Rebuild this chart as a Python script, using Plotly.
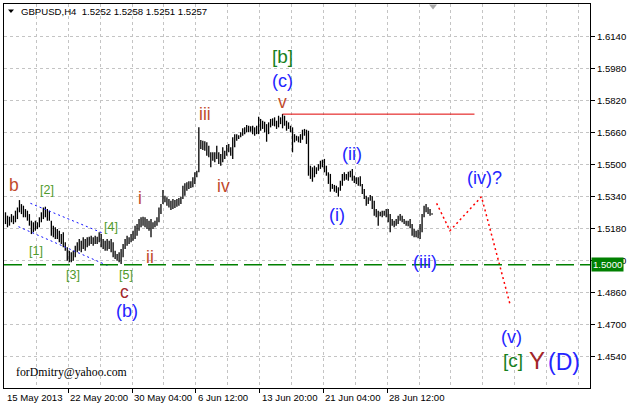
import plotly.graph_objects as go

symbol = "GBPUSD,H4"
last_ohlc = [1.5252, 1.5258, 1.5251, 1.5257]

highs = [
    1.5263, 1.5246, 1.5241, 1.5254, 1.5246, 1.5271, 1.5287, 1.5324, 1.5304, 1.5296,
    1.5279, 1.5271, 1.5254, 1.5221, 1.5213, 1.5221, 1.5213, 1.5238, 1.5263, 1.5287,
    1.5291, 1.5279, 1.5271, 1.5221, 1.5196, 1.5188, 1.5179, 1.5171, 1.5154, 1.5163,
    1.5113, 1.5088, 1.5071, 1.5063, 1.5071, 1.5096, 1.5113, 1.5129, 1.5121, 1.5138,
    1.5129, 1.5138, 1.5141, 1.5146, 1.5138, 1.5146, 1.5141, 1.5163, 1.5154, 1.5129,
    1.5121, 1.5129, 1.5121, 1.5129, 1.5113, 1.5071, 1.5054, 1.5063, 1.5079, 1.5104,
    1.5129, 1.5146, 1.5138, 1.5154, 1.5171, 1.5196, 1.5204, 1.5229, 1.5238, 1.5241,
    1.5238, 1.5229, 1.5221, 1.5229, 1.5213, 1.5221, 1.5238, 1.5287, 1.5304, 1.5374,
    1.5346, 1.5338, 1.5329, 1.5321, 1.5329, 1.5324, 1.5329, 1.5334, 1.5341, 1.5396,
    1.5408, 1.5413, 1.5418, 1.5418, 1.5438, 1.5463, 1.5471, 1.5688, 1.5625, 1.5621,
    1.5618, 1.5613, 1.5596, 1.5563, 1.5563, 1.5563, 1.5596, 1.5563, 1.5555, 1.5588,
    1.5571, 1.5600, 1.5605, 1.5588, 1.5638, 1.5654, 1.5654, 1.5649, 1.5663, 1.5683,
    1.5688, 1.5700, 1.5696, 1.5693, 1.5696, 1.5688, 1.5696, 1.5741, 1.5730, 1.5721,
    1.5716, 1.5704, 1.5713, 1.5730, 1.5733, 1.5738, 1.5721, 1.5746, 1.5738, 1.5755,
    1.5746, 1.5721, 1.5713, 1.5696, 1.5688, 1.5654, 1.5646, 1.5643, 1.5654, 1.5676,
    1.5680, 1.5676, 1.5671, 1.5496, 1.5488, 1.5496, 1.5488, 1.5504, 1.5521, 1.5526,
    1.5530, 1.5496, 1.5463, 1.5455, 1.5405, 1.5400, 1.5396, 1.5388, 1.5421, 1.5455,
    1.5463, 1.5455, 1.5466, 1.5471, 1.5480, 1.5446, 1.5438, 1.5438, 1.5443, 1.5405,
    1.5380, 1.5346, 1.5338, 1.5350, 1.5343, 1.5321, 1.5280, 1.5271, 1.5266, 1.5271,
    1.5271, 1.5280, 1.5280, 1.5254, 1.5230, 1.5221, 1.5230, 1.5246, 1.5254, 1.5246,
    1.5230, 1.5221, 1.5221, 1.5230, 1.5205, 1.5180, 1.5171, 1.5176, 1.5205, 1.5254,
    1.5296, 1.5304, 1.5288, 1.5280, 1.5258,
]

lows = [
    1.5204, 1.5188, 1.5196, 1.5213, 1.5204, 1.5213, 1.5229, 1.5263, 1.5254, 1.5238,
    1.5238, 1.5221, 1.5196, 1.5154, 1.5163, 1.5171, 1.5179, 1.5188, 1.5213, 1.5229,
    1.5238, 1.5221, 1.5221, 1.5146, 1.5138, 1.5129, 1.5129, 1.5113, 1.5104, 1.5088,
    1.5071, 1.5021, 1.5013, 1.5013, 1.5021, 1.5038, 1.5063, 1.5071, 1.5063, 1.5079,
    1.5071, 1.5088, 1.5096, 1.5104, 1.5096, 1.5104, 1.5104, 1.5113, 1.5088, 1.5079,
    1.5071, 1.5071, 1.5079, 1.5063, 1.5038, 1.5029, 1.5021, 1.5013, 1.5004, 1.5038,
    1.5079, 1.5096, 1.5104, 1.5113, 1.5121, 1.5129, 1.5146, 1.5171, 1.5188, 1.5196,
    1.5188, 1.5179, 1.5171, 1.5138, 1.5179, 1.5188, 1.5196, 1.5213, 1.5254, 1.5304,
    1.5313, 1.5296, 1.5287, 1.5274, 1.5279, 1.5284, 1.5291, 1.5296, 1.5304, 1.5329,
    1.5346, 1.5371, 1.5379, 1.5384, 1.5388, 1.5404, 1.5438, 1.5463, 1.5580, 1.5575,
    1.5571, 1.5546, 1.5538, 1.5488, 1.5521, 1.5513, 1.5530, 1.5505, 1.5496, 1.5513,
    1.5530, 1.5546, 1.5563, 1.5546, 1.5530, 1.5588, 1.5621, 1.5630, 1.5638, 1.5646,
    1.5654, 1.5663, 1.5663, 1.5666, 1.5654, 1.5646, 1.5654, 1.5654, 1.5671, 1.5680,
    1.5663, 1.5616, 1.5654, 1.5688, 1.5696, 1.5693, 1.5680, 1.5688, 1.5704, 1.5683,
    1.5696, 1.5671, 1.5680, 1.5663, 1.5563, 1.5613, 1.5621, 1.5613, 1.5610, 1.5626,
    1.5646, 1.5605, 1.5446, 1.5430, 1.5416, 1.5438, 1.5454, 1.5471, 1.5480, 1.5488,
    1.5463, 1.5446, 1.5405, 1.5366, 1.5380, 1.5366, 1.5360, 1.5341, 1.5371, 1.5396,
    1.5421, 1.5426, 1.5421, 1.5438, 1.5421, 1.5410, 1.5405, 1.5396, 1.5393, 1.5355,
    1.5330, 1.5296, 1.5304, 1.5321, 1.5280, 1.5246, 1.5238, 1.5196, 1.5243, 1.5238,
    1.5246, 1.5238, 1.5213, 1.5163, 1.5196, 1.5188, 1.5196, 1.5205, 1.5221, 1.5213,
    1.5205, 1.5196, 1.5193, 1.5183, 1.5146, 1.5138, 1.5138, 1.5133, 1.5130, 1.5163,
    1.5238, 1.5263, 1.5254, 1.5246, 1.5251,
]

bar_idx = list(range(len(highs)))

time_labels = ["15 May 2013", "22 May 20:00", "30 May 04:00", "6 Jun 12:00",
               "13 Jun 20:00", "21 Jun 04:00", "28 Jun 12:00"]
price_ticks = [1.4540, 1.4700, 1.4860, 1.5020, 1.5180, 1.5340,
               1.5500, 1.5660, 1.5820, 1.5980, 1.6140]

support_level = 1.5000
resist_level = 1.5754
resist_span = [139, 235.3]

channel_upper_idx = [12.5, 49.5]
channel_upper_px = [1.5308, 1.5156]
channel_lower_idx = [6.5, 52.5]
channel_lower_px = [1.5191, 1.4991]

forecast_idx = [216.3, 223, 238.8, 253.3]
forecast_price = [1.5308, 1.5171, 1.5341, 1.4796]

ROMAN = "#c24a2c"
DARKRED = "#a3262a"
GREEN_S = "#4f9a2c"
GREEN_B = "#18801c"
BLUE = "#2424ff"

wave_labels = [
    ("b", 4.5, 1.5401, ROMAN, 17.5),
    ("[2]", 21, 1.5376, GREEN_S, 12.5),
    ("[1]", 15.5, 1.5071, GREEN_S, 12.5),
    ("[3]", 34, 1.4951, GREEN_S, 12.5),
    ("[4]", 53, 1.5191, GREEN_S, 12.5),
    ("[5]", 60.5, 1.4951, GREEN_S, 12.5),
    ("i", 67.5, 1.5336, ROMAN, 17.5),
    ("ii", 72.5, 1.5041, ROMAN, 17.5),
    ("c", 59.5, 1.4866, DARKRED, 17.5),
    ("(b)", 61, 1.4771, BLUE, 18),
    ("iii", 100, 1.5756, ROMAN, 17.5),
    ("iv", 109.5, 1.5396, ROMAN, 17.5),
    ("v", 139, 1.5816, ROMAN, 17.5),
    ("(c)", 139, 1.5921, BLUE, 18),
    ("[b]", 139, 1.6041, GREEN_B, 19),
    ("(ii)", 174, 1.5556, BLUE, 18),
    ("(i)", 166.5, 1.5251, BLUE, 18),
    ("(iii)", 210.5, 1.5016, BLUE, 18),
    ("(iv)?", 240.5, 1.5436, BLUE, 18),
    ("(v)", 254, 1.4641, BLUE, 18),
    ("[c]", 254.5, 1.4521, GREEN_B, 19),
    ("Y", 266.5, 1.4521, DARKRED, 24),
    ("(D)", 280, 1.4516, BLUE, 23),
]

FONT = "Liberation Sans, Arial, sans-serif"

# high-low bars as vertical segments
seg_x, seg_y = [], []
for i, h, l in zip(bar_idx, highs, lows):
    seg_x += [i, i, None]
    seg_y += [l, h, None]

fig = go.Figure()
fig.add_trace(go.Scatter(x=seg_x, y=seg_y, mode="lines",
                         line=dict(color="black", width=1.3), hoverinfo="skip",
                         connectgaps=False))

fig.add_trace(go.Scatter(x=channel_upper_idx, y=channel_upper_px, mode="lines",
                         line=dict(color="#1010ff", width=1, dash="2px,3px"), hoverinfo="skip"))
fig.add_trace(go.Scatter(x=channel_lower_idx, y=channel_lower_px, mode="lines",
                         line=dict(color="#1010ff", width=1, dash="2px,3px"), hoverinfo="skip"))
fig.add_trace(go.Scatter(x=resist_span, y=[resist_level, resist_level], mode="lines",
                         line=dict(color="#e00000", width=1), hoverinfo="skip"))
fig.add_trace(go.Scatter(x=forecast_idx, y=forecast_price, mode="lines",
                         line=dict(color="#ff0000", width=1.5, dash="2px,3px"), hoverinfo="skip"))

fig.add_shape(type="line", xref="paper", x0=0, x1=1, yref="y",
              y0=support_level, y1=support_level,
              line=dict(color="#008000", width=1.5, dash="18px,6px"))

# markers: small black menu triangle and grey shift triangle
fig.add_shape(type="path", xref="paper", yref="paper",
              path="M %.4f %.4f L %.4f %.4f L %.4f %.4f Z" % (
                  (7 - 3) / 588, 1 - (8.5 - 3) / 385, (13 - 3) / 588, 1 - (8.5 - 3) / 385,
                  (10 - 3) / 588, 1 - (12 - 3) / 385),
              fillcolor="black", line=dict(width=0))
fig.add_shape(type="path", xref="paper", yref="paper",
              path="M %.4f %.4f L %.4f %.4f L %.4f %.4f Z" % (
                  (429.5 - 3) / 588, 1 - (3.5 - 3) / 385, (437.5 - 3) / 588, 1 - (3.5 - 3) / 385,
                  (433.5 - 3) / 588, 1 - (8.5 - 3) / 385),
              fillcolor="#a8a8a8", line=dict(width=0))

for text, xi, yp, col, size in wave_labels:
    fig.add_annotation(x=xi, y=yp, xref="x", yref="y", text=text, showarrow=False,
                       font=dict(family=FONT, size=size, color=col),
                       xanchor="center", yanchor="middle")

# header
fig.add_annotation(xref="paper", yref="paper", x=0, y=1, xshift=15, yshift=-7.5,
                   xanchor="left", yanchor="middle", showarrow=False,
                   text="%s\u00a0 %s" % (symbol, " ".join("%.4f" % v for v in last_ohlc)),
                   font=dict(family=FONT, size=9.6, color="black"))

# signature
fig.add_annotation(xref="paper", yref="paper", x=(13 - 3) / 588, y=1 - (371.5 - 3) / 385,
                   xanchor="left", yanchor="middle", showarrow=False,
                   text="forDmitry@yahoo.com",
                   font=dict(family="Liberation Serif, Times New Roman, serif", size=11.8, color="black"))

# time labels (left aligned at tick)
tick_pos = [-0.5] + [31.5 + 32 * k for k in range(len(time_labels) - 1)]
for pos, lab in zip(tick_pos, time_labels):
    fig.add_annotation(x=pos, xref="x", y=0, yref="paper", yshift=-2, text=lab,
                       xanchor="left", yanchor="top", showarrow=False,
                       font=dict(family=FONT, size=9.6, color="black"))

# current price box
fig.add_annotation(xref="paper", x=1, xshift=1, y=support_level, yref="y",
                   text="%.4f" % support_level, xanchor="left", yanchor="middle",
                   showarrow=False, bgcolor="#008000", borderpad=1,
                   font=dict(family=FONT, size=9.6, color="white"))

grid_all = [15.5 + 16 * k for k in range(18)]
minor_grid = [g for g in grid_all if g not in tick_pos]

fig.update_layout(
    width=629, height=405,
    margin=dict(l=3, r=38, t=3, b=17),
    paper_bgcolor="white", plot_bgcolor="white",
    showlegend=False,
)
fig.update_xaxes(
    range=[-0.75, 293.25], showline=True, mirror=True, linecolor="black", linewidth=1,
    tickvals=tick_pos[1:], ticks="outside", ticklen=4, tickcolor="black",
    showticklabels=False, showgrid=True, gridcolor="#c4c4c4", griddash="3px,3px", gridwidth=1,
    minor=dict(tickvals=minor_grid, showgrid=True, gridcolor="#c4c4c4",
               griddash="3px,3px", gridwidth=1, ticks=""),
    zeroline=False,
)
fig.update_yaxes(
    range=[1.4384, 1.6305], side="right", showline=True, mirror=True,
    linecolor="black", linewidth=1, tickvals=price_ticks, tickformat=".4f",
    ticks="outside", ticklen=4, tickcolor="black",
    tickfont=dict(family=FONT, size=9.6, color="black"),
    showgrid=True, gridcolor="#c4c4c4", griddash="3px,3px", gridwidth=1, zeroline=False,
)

fig.write_html("out.html", config={"displayModeBar": False},
               post_script="document.body.style.margin='0px';document.body.style.overflow='hidden';")
